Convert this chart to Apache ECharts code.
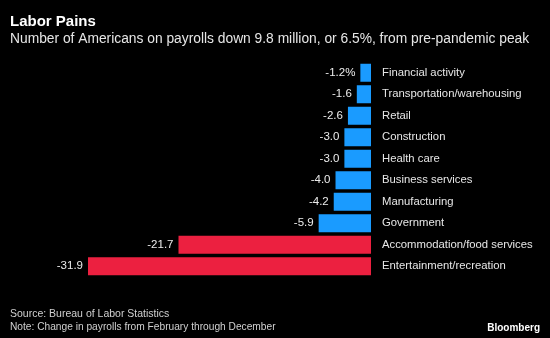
<!DOCTYPE html>
<html><head><meta charset="utf-8">
<script src="https://cdn.jsdelivr.net/npm/echarts@6/dist/echarts.min.js"></script>
<style>html,body{margin:0;padding:0;background:#000;}#c{width:550px;height:338px;}</style>
</head><body><div id="c"></div>
<script>
const categories = ["Financial activity","Transportation/warehousing","Retail","Construction","Health care","Business services","Manufacturing","Government","Accommodation/food services","Entertainment/recreation"];
const values = [-1.2,-1.6,-2.6,-3.0,-3.0,-4.0,-4.2,-5.9,-21.7,-31.9];
const highlight = [false,false,false,false,false,false,false,false,true,true];
const FONT = "Liberation Sans";
const chart = echarts.init(document.getElementById('c'));
chart.setOption({
  backgroundColor: '#000',
  animation: false,
  title: [
    {text: 'Labor Pains', left: 10, top: 14, padding: 0, textStyle: {color: '#fff', fontSize: 15, fontWeight: 'bold', fontFamily: FONT}},
    {text: 'Number of Americans on payrolls down 9.8 million, or 6.5%, from pre-pandemic peak', left: 10, top: 32, padding: 0, textStyle: {color: '#e6e6e6', fontSize: 13.8, fontWeight: 'normal', fontFamily: FONT}},
    {text: 'Source: Bureau of Labor Statistics', left: 10, top: 309, padding: 0, textStyle: {color: '#d0d0d0', fontSize: 10.5, fontWeight: 'normal', fontFamily: FONT}},
    {text: 'Note: Change in payrolls from February through December', left: 10, top: 322, padding: 0, textStyle: {color: '#d0d0d0', fontSize: 10.2, fontWeight: 'normal', fontFamily: FONT}},
    {text: 'Bloomberg', right: 10, top: 323, padding: 0, textStyle: {color: '#fff', fontSize: 10, fontWeight: 'bold', fontFamily: FONT}}
  ],
  grid: {left: 88, right: 179, top: 62, bottom: 61},
  xAxis: {type: 'value', min: -31.9, max: 0, show: false},
  yAxis: {type: 'category', data: categories, inverse: true, position: 'right',
    axisLine: {show: false}, axisTick: {show: false}, splitLine: {show: false},
    axisLabel: {color: '#e6e6e6', fontSize: 11.3, fontFamily: FONT, margin: 11}},
  series: [{
    type: 'bar', barWidth: 18,
    data: values.map((v, i) => ({value: v, itemStyle: {color: highlight[i] ? '#ec2040' : '#1a9bff'}})),
    label: {show: true, position: 'left', distance: 5, color: '#ececec', fontSize: 11.5, fontFamily: FONT,
      formatter: p => (p.dataIndex === 0 ? p.value.toFixed(1) + '%' : p.value.toFixed(1))}
  }]
});
</script></body></html>
